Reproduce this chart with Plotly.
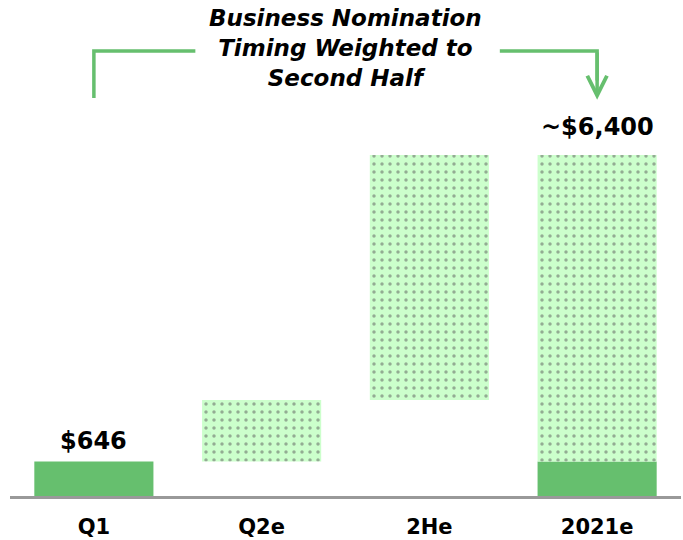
import plotly.graph_objects as go

categories = ["Q1", "Q2e", "2He", "2021e"]
solid_values = [646, None, None, 646]
pattern_bases = [None, 646, 1800, 646]
pattern_values = [None, 1154, 4600, 5754]
top_labels = ["$646", None, None, "~$6,400"]
label_values = [646, None, None, 6400]
title_lines = ["Business Nomination", "Timing Weighted to", "Second Half"]

GREEN = "#66BF6E"
LIGHT = "#CCFFCC"
FONT = "DejaVu Sans, Liberation Sans, Arial, sans-serif"

fig = go.Figure()
fig.add_trace(go.Bar(
    x=categories, y=solid_values, width=0.71,
    marker=dict(color=GREEN, line=dict(width=0)),
    hoverinfo="skip", showlegend=False,
))
fig.add_trace(go.Bar(
    x=categories, y=pattern_values, base=pattern_bases, width=0.71,
    marker=dict(color=LIGHT, line=dict(width=0),
                pattern=dict(shape=".", fgcolor="#5a5a5a", bgcolor=LIGHT,
                             size=8, solidity=0.15, fillmode="overlay")),
    hoverinfo="skip", showlegend=False,
))

label_shifts = [5, None, None, 12]
for cat, txt, v, sh in zip(categories, top_labels, label_values, label_shifts):
    if txt:
        fig.add_annotation(x=cat, y=v, text="<b>%s</b>" % txt, showarrow=False,
                           yanchor="bottom", yshift=sh,
                           font=dict(family=FONT, size=24, color="black"))

fig.add_annotation(x=1.5, y=1, xref="x", yref="paper",
                   text="<br>".join("<b><i>%s</i></b>" % t for t in title_lines),
                   showarrow=False, yanchor="top", yshift=-3,
                   font=dict(family=FONT, size=23, color="black"))

# bracket line left
fig.add_shape(type="path", xref="x", yref="y",
              path="M 0,7470 L 0,8352 L 0.605,8352",
              line=dict(color=GREEN, width=3.5))
# bracket line right
fig.add_shape(type="path", xref="x", yref="y",
              path="M 2.42,8352 L 3,8352 L 3,7800",
              line=dict(color=GREEN, width=3.5))
fig.add_annotation(x=3, y=7440, ax=3, ay=8352, xref="x", yref="y", axref="x", ayref="y",
                   text="", showarrow=True, arrowhead=5, arrowsize=1.1,
                   arrowwidth=3.5, arrowcolor=GREEN)

fig.update_layout(
    barmode="overlay",
    width=683, height=540,
    margin=dict(l=10, r=2, t=0, b=44),
    plot_bgcolor="white", paper_bgcolor="white",
    xaxis=dict(showline=True, linecolor="#999999", linewidth=2.5, showgrid=False,
               ticks="", tickfont=dict(family=FONT, size=21, color="black"),
               ticklabelstandoff=10),
    yaxis=dict(range=[0, 9310], visible=False, showgrid=False, zeroline=False),
    bargap=0.29,
)
fig.update_xaxes(tickvals=categories, ticktext=["<b>%s</b>" % c for c in categories])

fig.write_html("out.html", config={"displayModeBar": False},
               post_script="document.body.style.margin='0px';")
